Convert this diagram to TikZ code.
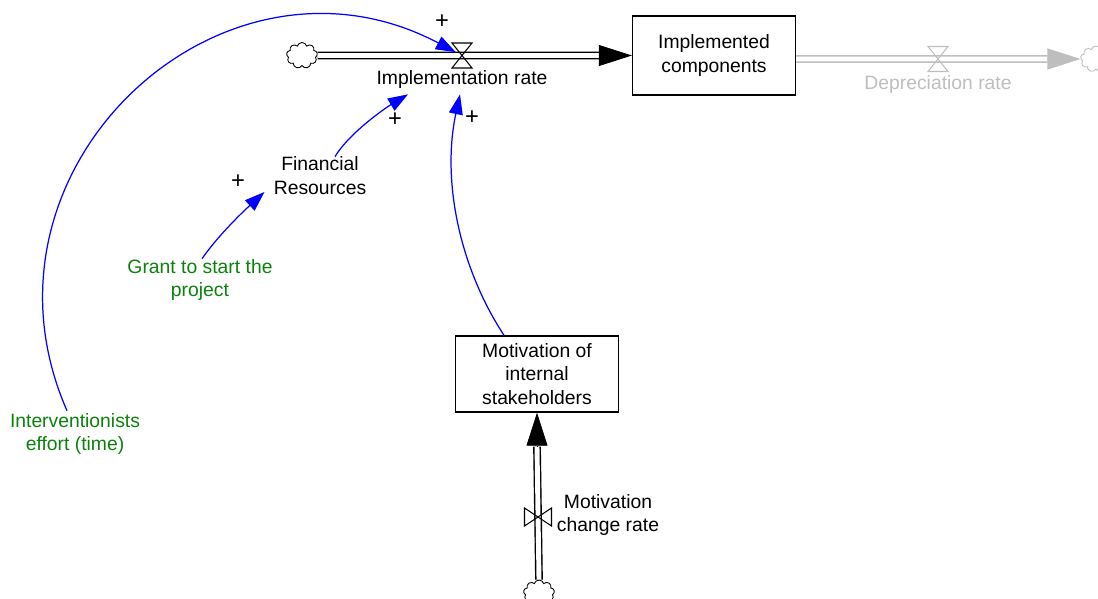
\documentclass[tikz,border=0pt]{standalone}
\usepackage{fontspec}
\setmainfont{Liberation Sans}
\usepackage{xcolor}
\usepackage{tikz}
\usetikzlibrary{arrows.meta,shapes.symbols}

\definecolor{linkblue}{RGB}{0,0,255}
\definecolor{exogreen}{RGB}{10,130,10}
\definecolor{faded}{RGB}{190,190,190}

\begin{document}
\begin{tikzpicture}[
        x=0.02cm, y=-0.02cm,
        font=\fontsize{11}{13.6}\selectfont,
        stock/.style={
            rectangle,
            draw,
            line width=0.8pt,
            align=center,
            minimum width=3.26cm,
            minimum height=1.58cm
        },
        aux/.style={
            align=center,
            inner sep=0pt
        },
        exo/.style={
            aux,
            text=exogreen
        },
        sign/.style={
            inner sep=0pt,
            font=\fontsize{13.5}{14}\selectfont
        },
        source/.style={
            cloud,
            draw,
            cloud puffs=9,
            aspect=1.2,
            line width=0.5pt,
            minimum width=0.62cm,
            minimum height=0.52cm,
            inner sep=0pt
        },
        pipe/.style={
            double,
            double distance=2.8pt,
            line width=0.8pt
        },
        flowtip/.style={
            -{Triangle[length=0.66cm,width=0.42cm]},
            line width=0.4pt
        },
        link/.style={
            draw=linkblue,
            line width=0.7pt,
            -{Triangle[length=0.4cm,width=0.28cm]},
            color=linkblue
        },
        valveh/.pic={
            \draw[line width=0.6pt] (-10,-12.5) -- (10,-12.5) -- (-10,12.5) -- (10,12.5) -- cycle;
        },
        valvev/.pic={
            \draw[line width=0.6pt] (-13.5,-9) -- (-13.5,9) -- (13.5,-9) -- (13.5,9) -- cycle;
        }
    ]

    \useasboundingbox (0,0) rectangle (1098,598);

    % ---------- Main flow: implementation ----------
    \node[source] (srcI) at (302,55.5) {};
    \node[stock] (impl) at (714,55.5) {Implemented\\components};
    \coordinate (valveI) at (462,55.5);

    \draw[pipe] (srcI.east) -- ([xshift=-0.66cm]impl.west);
    \draw[flowtip] ([xshift=-0.66cm]impl.west) -- (impl.west);
    \pic at (valveI) {valveh};
    \node[aux] (rateI) at (462,80) {Implementation rate};

    % ---------- Depreciation (faded) ----------
    \node[source, draw=faded] (sinkD) at (1096,59) {};
    \coordinate (valveD) at (938,59);

    \draw[pipe, faded] ([yshift=-0.07cm]impl.east) -- ([xshift=-0.66cm]sinkD.west);
    \draw[flowtip, faded] ([xshift=-0.66cm]sinkD.west) -- (sinkD.west);
    \pic[faded] at (valveD) {valveh};
    \node[aux, text=faded] (rateD) at (938,85) {Depreciation rate};

    % ---------- Motivation stock and its inflow ----------
    \node[stock, minimum height=1.52cm] (motiv) at (537,374) {Motivation of\\internal\\stakeholders};
    \node[source] (srcM) at (539,593) {};
    \coordinate (valveM) at (538,517);

    \draw[pipe] (srcM.north) -- ([yshift=-0.68cm]motiv.south);
    \draw[flowtip] ([yshift=-0.68cm]motiv.south) -- (motiv.south);
    \pic at (valveM) {valvev};
    \node[aux] (rateM) at (608,515) {Motivation\\change rate};

    % ---------- Auxiliaries and constants ----------
    \node[aux] (finres) at (320,176) {Financial\\Resources};
    \node[exo] (grant)  at (200,280) {Grant to start the\\project};
    \node[exo] (effort) at (75,434)  {Interventionists\\effort (time)};

    % ---------- Causal links ----------
    \draw[link, shorten >=0.14cm] ([xshift=-0.16cm,yshift=0.04cm]effort.north)
        .. controls (-39,169) and (221,-72) .. (valveI);
    \draw[link] ([xshift=-0.66cm]motiv.north)
        .. controls (458,265) and (442,178) .. ([xshift=-0.04cm,yshift=-0.1cm]rateI.south);
    \draw[link] ([xshift=0.3cm]finres.north)
        .. controls (350,132) and (387,107) .. ([xshift=-1.08cm,yshift=-0.1cm]rateI.south);
    \draw[link] ([xshift=0.04cm]grant.north)
        .. controls (220,233) and (246,209) .. ([xshift=-0.18cm,yshift=-0.32cm]finres.west);

    % Polarities
    \node[sign] (plusE) at (442,22)  {+};
    \node[sign] (plusF) at (395,120) {+};
    \node[sign] (plusM) at (472,118) {+};
    \node[sign] (plusG) at (238,182) {+};

\end{tikzpicture}
\end{document}
